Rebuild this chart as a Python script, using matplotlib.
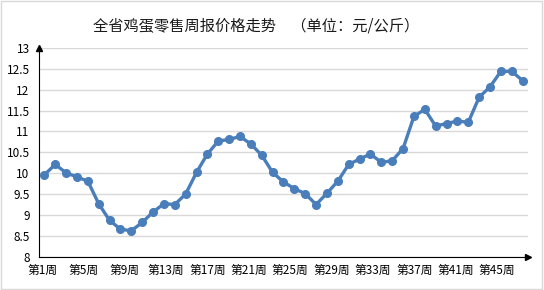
import matplotlib
matplotlib.use("Agg")
import matplotlib.pyplot as plt
import numpy as np
from matplotlib.patches import Rectangle

plt.rcParams['font.family'] = ['Noto Sans CJK SC', 'DejaVu Sans']

weeks = list(range(1, 46))
price = [9.96, 10.21, 10.01, 9.91, 9.81, 9.27, 8.87, 8.66, 8.62, 8.82,
         9.07, 9.27, 9.25, 9.50, 10.02, 10.46, 10.77, 10.81, 10.88, 10.70,
         10.43, 10.02, 9.79, 9.63, 9.51, 9.25, 9.52, 9.81, 10.21, 10.34,
         10.46, 10.26, 10.30, 10.59, 11.36, 11.53, 11.13, 11.19, 11.25, 11.22,
         11.82, 12.07, 12.44, 12.44, 12.22]
xlabels = ["第1周", "第5周", "第9周", "第13周", "第17周", "第21周",
           "第25周", "第29周", "第33周", "第37周", "第41周", "第45周"]
yticks = [8, 8.5, 9, 9.5, 10, 10.5, 11, 11.5, 12, 12.5, 13]
ylabels = ["8", "8.5", "9", "9.5", "10", "10.5", "11", "11.5", "12", "12.5", "13"]

fig = plt.figure(figsize=(5.44, 2.9), dpi=100)
fig.patches.append(Rectangle((0.002, 0.003), 0.995, 0.993, transform=fig.transFigure,
                             fill=False, edgecolor="#d9d9d9", linewidth=1))
ax = fig.add_axes([0.0723, 0.1148, 0.8978, 0.7197])

ax.plot(weeks, price, color="#4a7ebb", linewidth=2.4, marker="o", markersize=5.5,
        zorder=3)

ax.set_xlim(0.54, 45.47)
ax.set_ylim(8, 13)
ax.set_yticks(yticks)
ax.set_yticklabels(ylabels, fontsize=8.5)
# the category labels are squeezed in the original, so they sit a little left of their points
ax.set_xticks(np.linspace(0.8, 42.65, len(xlabels)))
ax.set_xticklabels(xlabels, fontsize=8.5)
ax.tick_params(axis="both", length=0, colors="black")
ax.tick_params(axis="y", pad=7)
ax.tick_params(axis="x", pad=5)
ax.grid(axis="y", color="#d9d9d9", linewidth=1)
ax.set_axisbelow(True)
for s in ["top", "right"]:
    ax.spines[s].set_visible(False)
ax.spines["left"].set_color("black")
ax.spines["bottom"].set_color("black")
ax.plot(0, 1, marker="^", color="black", markersize=5, transform=ax.transAxes,
        clip_on=False)
ax.plot(1, 0, marker=">", color="black", markersize=5, transform=ax.transAxes,
        clip_on=False)

fig.text(0.47, 0.91, "全省鸡蛋零售周报价格走势　（单位：元/公斤）", ha="center",
         va="center", fontsize=11, color="#1a1a1a")

fig.savefig("out.png", dpi=100)
